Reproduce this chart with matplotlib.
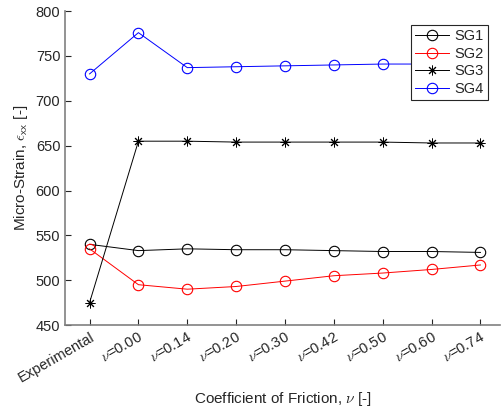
import numpy as np
import matplotlib
matplotlib.use("Agg")
import matplotlib.pyplot as plt

plt.rcParams['font.family'] = ['Liberation Sans', 'DejaVu Sans']
plt.rcParams['mathtext.fontset'] = 'cm'

cases = ['Experimental', '0.00', '0.14', '0.20', '0.30', '0.42', '0.50', '0.60', '0.74']
sg1 = [540, 533, 535, 534, 534, 533, 532, 532, 531]
sg2 = [535, 495, 490, 493, 499, 505, 508, 512, 517]
sg3 = [475, 655, 655, 654, 654, 654, 654, 653, 653]
sg4 = [730, 776, 737, 738, 739, 740, 741, 741, 742]

labels = [cases[0]] + [r'$\nu$=' + c for c in cases[1:]]
x = np.arange(len(cases))

grey = '#262626'
fig = plt.figure(figsize=(5.01, 4.12), dpi=100)
ax = fig.add_axes([0.130, 0.211, 0.868, 0.762])

ax.plot(x, sg1, color='k', lw=0.7, marker='o', mfc='none', ms=7.5, mew=0.8, label='SG1')
ax.plot(x, sg2, color='#ff0000', lw=0.7, marker='o', mfc='none', ms=7.5, mew=0.8, label='SG2')
ax.plot(x, sg3, color='k', lw=0.7, marker=(8, 2, 0), ms=7, mew=0.7, label='SG3')
ax.plot(x, sg4, color='#0000ff', lw=0.7, marker='o', mfc='none', ms=7.5, mew=0.8, label='SG4')

ax.set_xlim(-0.5, 8.4)
ax.set_ylim(450, 800)
ax.set_yticks(np.arange(450, 801, 50))
ax.set_xticks(x)
ax.set_xticklabels(labels, rotation=30, ha='right', rotation_mode='anchor')

for s in ['top', 'right']:
    ax.spines[s].set_visible(False)
for s in ['left', 'bottom']:
    ax.spines[s].set_color('#808080')
    ax.spines[s].set_linewidth(1.2)
ax.tick_params(direction='in', length=4, color=grey, labelcolor=grey, labelsize=10.5)

ax.set_xlabel(r'Coefficient of Friction, $\nu$ [-]', color=grey, fontsize=11)
ax.set_ylabel(r'Micro-Strain, $\epsilon_{\mathsf{xx}}$ [-]', color=grey, fontsize=11)

leg = ax.legend(loc='upper right', bbox_to_anchor=(0.99, 0.98), fancybox=False,
                edgecolor='#262626', framealpha=1, fontsize=10.5,
                handlelength=2.3, borderpad=0.3, labelspacing=0.25, handletextpad=0.4)
leg.get_frame().set_linewidth(0.8)
for t in leg.get_texts():
    t.set_color(grey)

fig.savefig('out.png', dpi=100)
